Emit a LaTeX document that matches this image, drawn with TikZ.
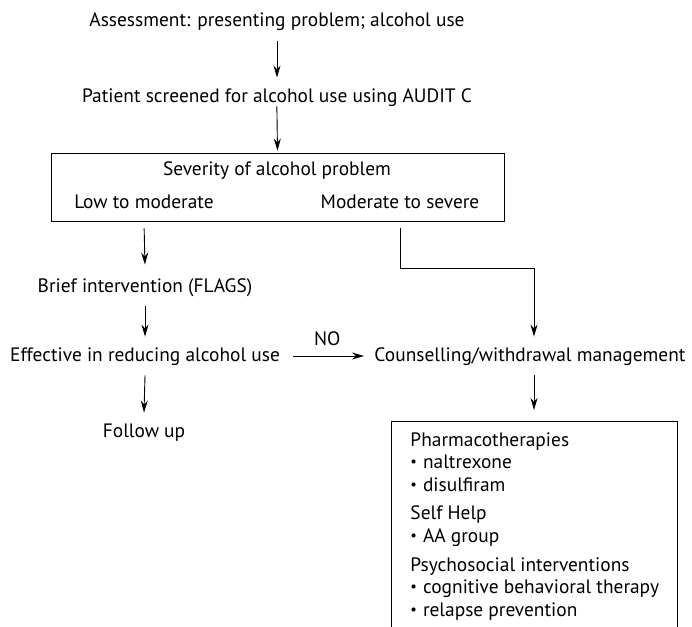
\documentclass[tikz,border=0pt]{standalone}
\usepackage{fontspec}
\setmainfont{PT Sans}
\usetikzlibrary{arrows.meta,positioning,calc}
\tikzset{txt/.style={inner sep=0pt,text height=14pt,text depth=4pt,minimum height=38pt}}
\tikzset{frame/.style={draw,line width=0.9pt}}
\newcommand{\itemdot}{\raisebox{0.1em}{\scalebox{0.75}{\textbullet}}\hspace{6pt}}

\begin{document}
\begin{tikzpicture}[x=1pt, y=-1pt, line width=0.9pt, >={Stealth[length=12pt,width=7pt]}, font=\fontsize{19.4}{22.6}\selectfont]
\useasboundingbox (0,0) rectangle (692,626);
    \node[txt] (assess) at (277,22) {Assessment: presenting problem; alcohol use};
    \node[txt] (screen) at (277,97) {Patient screened for alcohol use using AUDIT C};
    \node[frame,minimum width=453pt,minimum height=68pt,inner sep=0pt] (sev) at (277.5,187) {};
    \node[txt] (sevtitle) at (277,170) {Severity of alcohol problem};
    \node[txt] (low) at (144,203) {Low to moderate};
    \node[txt] (high) at (400,203) {Moderate to severe};
    \node[txt] (brief) at (145,287) {Brief intervention (FLAGS)};
    \node[txt] (effect) at (145,356) {Effective in reducing alcohol use};
    \node[txt] (follow) at (144,432) {Follow up};
    \node[txt] (counsel) at (530,356) {Counselling/withdrawal management};
    \node[frame,anchor=north west,minimum width=286pt,minimum height=230pt,inner sep=0pt] (treat) at (391,421) {};
    \node[anchor=north west,align=left,inner sep=0pt] (list) at ($(treat.north west)+(19,11)$)
        {Pharmacotherapies\\ \itemdot naltrexone\\ \itemdot disulfiram\\[6pt]
         Self Help\\ \itemdot AA group\\[6pt]
         Psychosocial interventions\\ \itemdot cognitive behavioral therapy\\ \itemdot relapse prevention};
    \coordinate (bend) at (534,268);

    \draw[->] (assess.south) -- (screen.north);
    \draw[->,shorten <=-10pt,shorten >=2pt] (screen.south) -- (sev.north);
    \draw[->,shorten <=7pt,shorten >=3pt] (sev.south -| low) -- (brief.north);
    \draw[->] (brief.south) -- (effect.north);
    \draw[->] (effect.south) -- (follow.north);
    \draw[->,shorten <=7pt] (sev.south -| high) |- (bend) -- (counsel.north -| bend);
    \draw[->,shorten <=13pt,shorten >=10pt] (effect.east) -- node[txt,above,minimum height=30pt] {NO} (counsel.west);
    \draw[->,shorten >=11pt] (counsel.south -| bend) -- (treat.north -| bend);
\end{tikzpicture}
\end{document}
